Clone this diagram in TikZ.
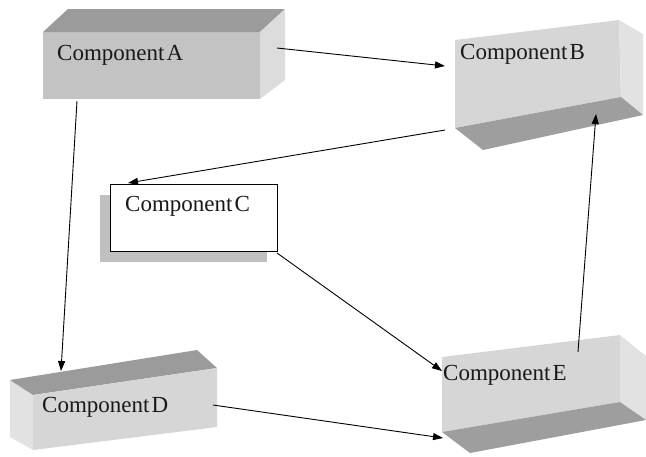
\documentclass[tikz,border=0pt]{standalone}
\usepackage{fontspec}
\setmainfont{Liberation Serif}
\usetikzlibrary{arrows.meta}
\definecolor{faceA}{HTML}{C3C3C3}
\definecolor{topA}{HTML}{9B9B9B}
\definecolor{sideA}{HTML}{DCDCDC}
\definecolor{faceL}{HTML}{D6D6D6}
\definecolor{darkF}{HTML}{9E9E9E}
\definecolor{sideL}{HTML}{E2E2E2}
\definecolor{shadowC}{HTML}{C0C0C0}
\tikzset{
  lbl/.style={anchor=base west, inner sep=0pt, font=\fontsize{23}{25}\selectfont, text=black!90},
  conn/.style={-{Triangle[length=10pt,width=7pt]}, line width=0.9pt, black},
}
\begin{document}
\begin{tikzpicture}[x=1pt,y=-1pt]
\useasboundingbox (0,0) rectangle (646,456);
% Component A (box)
\fill[faceA] (43,32) rectangle (260,99);
\fill[topA] (43,32) -- (68,9) -- (285,9) -- (260,32) -- cycle;
\fill[sideA] (260,32) -- (285,9) -- (285,80) -- (260,99) -- cycle;
\node[lbl] (A) at (57,60) {Component\kern2pt A};
% Component B
\fill[faceL] (455,40) -- (619,20) -- (621,97) -- (455,128) -- cycle;
\fill[sideL] (619,20) -- (643,34) -- (643,115) -- (621,97) -- cycle;
\fill[darkF] (455,128) -- (621,97) -- (643,115) -- (483,150) -- cycle;
\node[lbl] (B) at (460,59) {Component\kern2pt B};
% Component C
\fill[shadowC] (100,195) rectangle (267,262);
\draw[fill=white, line width=0.8pt] (110,184) rectangle (277,251);
\node[lbl] (C) at (125,211) {Component\kern2pt C};
% Component D
\fill[sideL] (10,380) -- (33,395) -- (33,450) -- (10,437) -- cycle;
\fill[topA] (10,380) -- (197,350) -- (217,368) -- (33,395) -- cycle;
\fill[faceL] (33,395) -- (217,368) -- (217,427) -- (33,450) -- cycle;
\node[lbl] (D) at (42,412) {Component\kern2pt D};
% Component E
\fill[faceL] (442,357) -- (620,335) -- (620,402) -- (442,432) -- cycle;
\fill[sideL] (620,335) -- (646,356) -- (646,420) -- (620,402) -- cycle;
\fill[darkF] (442,432) -- (620,402) -- (646,420) -- (470,453) -- cycle;
\node[lbl] (E) at (443,380) {Component\kern2pt E};
% connector end points
\coordinate (aR) at (277,48);
\coordinate (bL) at (445,66);
\coordinate (aB) at (77,101);
\coordinate (dT) at (61,371);
\coordinate (bS) at (445,130);
\coordinate (cT) at (128,183);
\coordinate (cR) at (277,253);
\coordinate (eL) at (442,371);
\coordinate (dR) at (213,405);
\coordinate (eB) at (443,438);
\coordinate (eT) at (578,352);
\coordinate (bB) at (596,114);
\draw[conn] (aR) -- (bL);
\draw[conn] (aB) -- (dT);
\draw[conn] (bS) -- (cT);
\draw[conn] (cR) -- (eL);
\draw[conn] (dR) -- (eB);
\draw[conn] (eT) -- (bB);
\end{tikzpicture}
\end{document}
